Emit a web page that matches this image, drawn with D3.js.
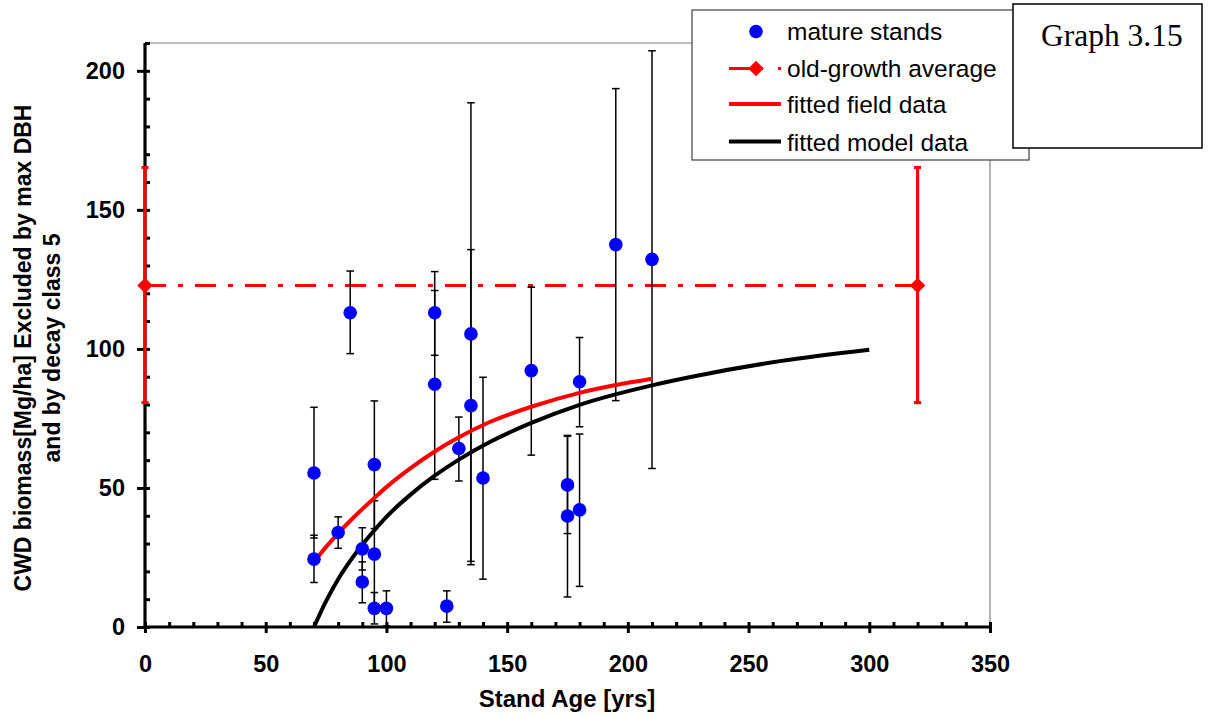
<!DOCTYPE html>
<html>
<head>
<meta charset="utf-8">
<script src="https://cdn.jsdelivr.net/npm/d3@7"></script>
<style>
  html, body { margin: 0; padding: 0; background: #fff; }
  svg { display: block; }
</style>
</head>
<body>
<svg id="chart" width="1212" height="717"></svg>
<script>
// ---------- DATA ----------
const matureAge  = [70, 70, 80, 85, 90, 90, 95, 95, 95, 100, 120, 120, 125, 130, 135, 135, 140, 160, 175, 175, 180, 180, 195, 210];
const matureCWD  = [55.4, 24.4, 34.0, 113.0, 28.1, 16.2, 58.4, 26.2, 6.7, 6.7, 113.0, 87.3, 7.5, 64.2, 105.4, 79.6, 53.6, 92.2, 51.1, 39.9, 88.2, 42.1, 137.5, 132.2];
const matureLow  = [32.0, 16.0, 28.3, 98.3, 20.5, 8.7, 35.4, 7.0, 1.1, 0.4, 97.7, 53.1, 1.7, 52.5, 22.4, 23.6, 17.2, 61.8, 33.6, 10.8, 72.0, 14.6, 81.4, 57.0];
const matureHigh = [79.0, 33.0, 39.6, 128.0, 35.7, 23.4, 81.3, 45.4, 12.4, 13.0, 127.8, 121.0, 13.0, 75.5, 188.5, 135.7, 89.8, 122.2, 68.6, 68.9, 104.1, 69.4, 193.6, 207.2];

const oldAge  = [0, 320];
const oldMean = [122.8, 122.8];
const oldLow  = [80.7, 80.7];
const oldHigh = [165.2, 165.2];

const fieldFitAge = [70, 75, 80, 85, 90, 95, 100, 110, 120, 130, 143, 160, 180, 195, 210];
const fieldFitCWD = [23.4, 28.8, 33.7, 38.2, 42.4, 46.4, 50.3, 57.1, 63.1, 68.2, 73.8, 79.2, 84.2, 87.0, 89.3];

const modelFitAge = [70, 75, 80, 85, 90, 95, 100, 110, 120, 130, 143, 160, 180, 210, 226, 263, 300];
const modelFitCWD = [0, 9.3, 17.2, 23.8, 29.6, 34.8, 39.6, 47.6, 54.4, 60.2, 66.6, 73.4, 79.9, 86.9, 89.9, 95.6, 99.7];

const xMajorTicks = [0, 50, 100, 150, 200, 250, 300, 350];
const yMajorTicks = [0, 50, 100, 150, 200];
const xMinorTicks = d3.range(0, 351, 10);
const yMinorTicks = d3.range(0, 211, 10);

const legendLabels = ["mature stands", "old-growth average", "fitted field data", "fitted model data"];
const xTitle = "Stand Age [yrs]";
const yTitleLines = ["CWD biomass[Mg/ha] Excluded by max DBH", "and by decay class 5"];
const graphLabel = "Graph 3.15";

// ---------- LAYOUT ----------
const svg = d3.select("#chart");
const L = 145, R = 990, T = 43, B = 627;
const x = d3.scaleLinear().domain([0, 350]).range([L, R]);
const y = d3.scaleLinear().domain([0, 210]).range([B, T]);
const RED = "#FF0000", BLUE = "#0000FF";
const sans = "'Liberation Sans', Arial, sans-serif";

// plot frame (top/right gray)
svg.append("line").attr("x1", L).attr("x2", R).attr("y1", T).attr("y2", T)
  .attr("stroke", "#808080").attr("stroke-width", 1.2);
svg.append("line").attr("x1", R).attr("x2", R).attr("y1", T).attr("y2", B)
  .attr("stroke", "#808080").attr("stroke-width", 1.2);

// ---------- old-growth average line ----------
const oldIdx = d3.range(oldAge.length);
svg.append("path")
  .attr("d", d3.line().x(i => x(oldAge[i])).y(i => y(oldMean[i]))(oldIdx))
  .attr("fill", "none").attr("stroke", RED).attr("stroke-width", 3.2)
  .attr("stroke-dasharray", "21,12,5,12");

// ---------- error bars (mature) ----------
const mIdx = d3.range(matureAge.length);
const eb = svg.append("g").attr("stroke", "#000").attr("stroke-width", 1.5);
mIdx.forEach(i => {
  const cx = x(matureAge[i]);
  eb.append("line").attr("x1", cx).attr("x2", cx)
    .attr("y1", y(matureLow[i])).attr("y2", y(matureHigh[i]));
  [matureLow[i], matureHigh[i]].forEach(v => {
    eb.append("line").attr("x1", cx - 3.8).attr("x2", cx + 3.8)
      .attr("y1", y(v)).attr("y2", y(v));
  });
});

// ---------- fitted curves ----------
const fIdx = d3.range(fieldFitAge.length);
svg.append("path")
  .attr("d", d3.line().curve(d3.curveMonotoneX).x(i => x(fieldFitAge[i])).y(i => y(fieldFitCWD[i]))(fIdx))
  .attr("fill", "none").attr("stroke", RED).attr("stroke-width", 4);

const mdIdx = d3.range(modelFitAge.length);
svg.append("path")
  .attr("d", d3.line().curve(d3.curveMonotoneX).x(i => x(modelFitAge[i])).y(i => y(modelFitCWD[i]))(mdIdx))
  .attr("fill", "none").attr("stroke", "#000").attr("stroke-width", 4);

// ---------- points ----------
svg.append("g").selectAll("circle").data(mIdx).join("circle")
  .attr("cx", i => x(matureAge[i])).attr("cy", i => y(matureCWD[i]))
  .attr("r", 6.8).attr("fill", BLUE);

// ---------- axes ----------
function styleAxis(g) {
  g.selectAll(".domain").remove();
  g.selectAll(".tick line").attr("stroke", "#000").attr("stroke-width", 3);
  g.selectAll(".tick text").attr("font-family", sans).attr("font-weight", "bold")
    .attr("font-size", "23.5px").attr("fill", "#000");
}
svg.append("g").attr("transform", `translate(${L},0)`)
  .call(d3.axisLeft(y).tickValues(yMinorTicks).tickSize(-5).tickFormat(""))
  .call(styleAxis);
svg.append("g").attr("transform", `translate(${L},0)`)
  .call(d3.axisLeft(y).tickValues(yMajorTicks).tickSize(8).tickPadding(12).tickFormat(d3.format("d")))
  .call(styleAxis);
svg.append("g").attr("transform", `translate(0,${B})`)
  .call(d3.axisBottom(x).tickValues(xMinorTicks).tickSize(-5).tickFormat(""))
  .call(styleAxis);
svg.append("g").attr("transform", `translate(0,${B})`)
  .call(d3.axisBottom(x).tickValues(xMajorTicks).tickSize(6).tickPadding(22).tickFormat(d3.format("d")))
  .call(styleAxis);

svg.append("line").attr("x1", L).attr("x2", L).attr("y1", T).attr("y2", B + 1.5)
  .attr("stroke", "#000").attr("stroke-width", 3.2);
svg.append("line").attr("x1", L - 1.5).attr("x2", R + 1).attr("y1", B).attr("y2", B)
  .attr("stroke", "#000").attr("stroke-width", 3.2);

// ---------- old-growth error bars and markers (on top of axis) ----------
const ogErr = svg.append("g");
oldIdx.forEach(i => {
  ogErr.append("line").attr("x1", x(oldAge[i])).attr("x2", x(oldAge[i]))
    .attr("y1", y(oldLow[i])).attr("y2", y(oldHigh[i]))
    .attr("stroke", RED).attr("stroke-width", 3.2);
  [oldLow[i], oldHigh[i]].forEach(v => {
    ogErr.append("line").attr("x1", x(oldAge[i]) - 3.5).attr("x2", x(oldAge[i]) + 3.5)
      .attr("y1", y(v)).attr("y2", y(v)).attr("stroke", RED).attr("stroke-width", 3.2);
  });
});
svg.append("g").selectAll("path").data(oldIdx).join("path")
  .attr("d", d3.symbol().type(d3.symbolSquare).size(120))
  .attr("transform", i => `translate(${x(oldAge[i])},${y(oldMean[i])}) rotate(45)`)
  .attr("fill", RED);

// ---------- titles ----------
svg.append("text").attr("x", 567).attr("y", 707)
  .attr("text-anchor", "middle").attr("font-family", sans).attr("font-weight", "bold")
  .attr("font-size", "24px").text(xTitle);

const yt = svg.append("g").attr("transform", "translate(0,348) rotate(-90)");
yt.append("text").attr("x", 0).attr("y", 31).attr("text-anchor", "middle")
  .attr("font-family", sans).attr("font-weight", "bold").attr("font-size", "23px").text(yTitleLines[0]);
yt.append("text").attr("x", 0).attr("y", 60).attr("text-anchor", "middle")
  .attr("font-family", sans).attr("font-weight", "bold").attr("font-size", "23px").text(yTitleLines[1]);

// ---------- legend ----------
const lg = svg.append("g");
lg.append("rect").attr("x", 692).attr("y", 10).attr("width", 337).attr("height", 150)
  .attr("fill", "#fff").attr("stroke", "#404040").attr("stroke-width", 1.2);
const rowY = [31.5, 68.5, 104, 141.5];
const baseY = [39.5, 77, 113, 150.5];
lg.append("circle").attr("cx", 756).attr("cy", rowY[0]).attr("r", 6.8).attr("fill", BLUE);
lg.append("line").attr("x1", 729).attr("x2", 763).attr("y1", rowY[1]).attr("y2", rowY[1])
  .attr("stroke", RED).attr("stroke-width", 3.2);
lg.append("line").attr("x1", 778).attr("x2", 781).attr("y1", rowY[1]).attr("y2", rowY[1])
  .attr("stroke", RED).attr("stroke-width", 3.2);
lg.append("path").attr("d", d3.symbol().type(d3.symbolSquare).size(120))
  .attr("transform", `translate(756,${rowY[1]}) rotate(45)`).attr("fill", RED);
lg.append("line").attr("x1", 729).attr("x2", 781).attr("y1", rowY[2]).attr("y2", rowY[2])
  .attr("stroke", RED).attr("stroke-width", 4);
lg.append("line").attr("x1", 729).attr("x2", 781).attr("y1", rowY[3]).attr("y2", rowY[3])
  .attr("stroke", "#000").attr("stroke-width", 4);
legendLabels.forEach((t, i) => {
  lg.append("text").attr("x", 787).attr("y", baseY[i]).attr("font-family", sans)
    .attr("font-size", "24.5px").attr("fill", "#000").text(t);
});

// ---------- graph label box ----------
svg.append("rect").attr("x", 1013).attr("y", 4).attr("width", 189).attr("height", 144)
  .attr("fill", "#fff").attr("stroke", "#000").attr("stroke-width", 1.5);
svg.append("text").attr("x", 1041).attr("y", 46)
  .attr("font-family", "'Liberation Serif', 'Times New Roman', serif")
  .attr("font-size", "31.5px").attr("fill", "#000").text(graphLabel);
</script>
</body>
</html>
